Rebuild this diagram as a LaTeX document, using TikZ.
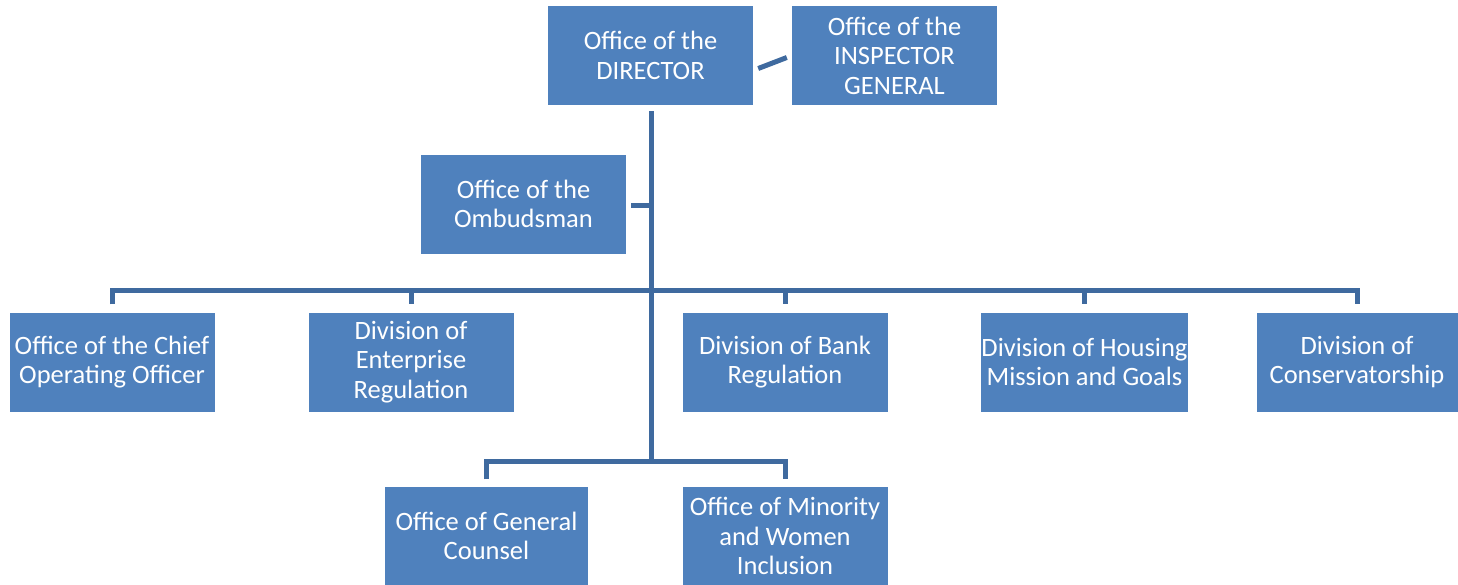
\documentclass[tikz,border=0pt]{standalone}
\usepackage{fontspec}
\setmainfont{Carlito}
\usetikzlibrary{calc}
\definecolor{boxblue}{HTML}{4F81BD}
\definecolor{lineblue}{HTML}{3F6A9F}
\tikzset{
  box/.style={fill=boxblue, text=white, minimum width=205pt, minimum height=99pt,
    align=center, inner sep=0pt, font=\fontsize{26.5}{29.5}\selectfont},
  conn/.style={draw=lineblue, line width=5pt, line join=miter}
}
\begin{document}
\begin{tikzpicture}[x=1pt,y=-1pt]
\useasboundingbox (0,0) rectangle (1458,584);
% top
\node[box] (dir) at (650.5,55.5) {Office of the\\DIRECTOR};
\node[box] (ig) at (894.5,55.5) {Office of the\\INSPECTOR\\GENERAL};
\node[box] (omb) at (523.5,204) {Office of the\\Ombudsman};
% row 2
\node[box] (coo) at (112,362) {Office of the Chief\\Operating Officer};
\node[box] (der) at (411,362) {Division of\\Enterprise\\Regulation};
\node[box] (dbr) at (785,362) {Division of Bank\\Regulation};
\node[box] (dhm) at (1084.5,362) {Division of Housing\\Mission and Goals};
\node[box, minimum width=201pt] (dc) at (1357,362) {Division of\\Conservatorship};
% row 3
\node[box, minimum width=203pt] (ogc) at (486.5,536) {Office of General\\Counsel};
\node[box] (omw) at (785,536) {Office of Minority\\and Women\\Inclusion};
% coordinates on the trunk
\coordinate (tOmb) at (651,205);
\coordinate (tBus) at (651,290);
\coordinate (tEnd) at (651,461);
% connectors
\draw[conn] ($(dir.east)+(5,13)$) -- ($(ig.west)+(-5,2)$);
\draw[conn] ($(dir.south)+(0.5,6)$) -- (tEnd);
\draw[conn] ($(omb.east)+(5,1)$) -- (tOmb);
\draw[conn] ($(coo.north)+(0,-8)$) |- (tBus) -| ($(dc.north)+(0,-8)$);
\draw[conn] (tBus -| der.north) -- ($(der.north)+(0,-8)$);
\draw[conn] (tBus -| dbr.north) -- ($(dbr.north)+(0,-8)$);
\draw[conn] (tBus -| dhm.north) -- ($(dhm.north)+(0,-8)$);
\draw[conn] ($(ogc.north)+(0,-7)$) |- (tEnd) -| ($(omw.north)+(0,-7)$);
\end{tikzpicture}
\end{document}
